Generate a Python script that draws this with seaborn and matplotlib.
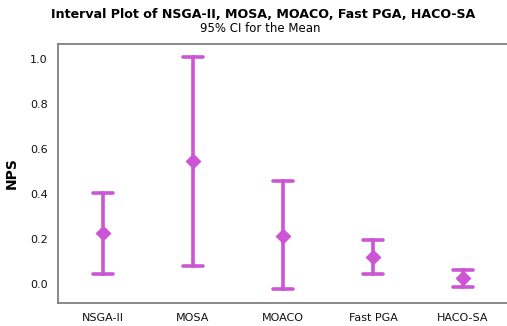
import matplotlib
matplotlib.use("Agg")
import matplotlib.pyplot as plt
import seaborn as sns
import pandas as pd

categories = ["NSGA-II", "MOSA", "MOACO", "Fast PGA", "HACO-SA"]
means = [0.226, 0.547, 0.215, 0.121, 0.025]
lower = [0.045, 0.081, -0.022, 0.044, -0.013]
upper = [0.406, 1.008, 0.456, 0.198, 0.062]
yticks = [0.0, 0.2, 0.4, 0.6, 0.8, 1.0]

rows = []
for c, lo, m, hi in zip(categories, lower, means, upper):
    for v in (lo, m, hi):
        rows.append({"Algorithm": c, "NPS": v})
df = pd.DataFrame(rows)

sns.set_style("white")
plt.rcParams["font.family"] = ["DejaVu Sans"]

color = "#CC55D6"
fig = plt.figure(figsize=(5.07, 3.26), dpi=100)
ax = fig.add_axes([58 / 507, 1 - 303 / 326, 450 / 507, 259 / 326])

sns.pointplot(data=df, x="Algorithm", y="NPS", order=categories,
              estimator="median", errorbar=("pi", 100), color=color,
              markers="D", linestyles="none", capsize=0.22,
              err_kws={"linewidth": 2.6}, markersize=6, ax=ax)

ax.set_xlim(-0.5, 4.5)
ax.set_ylim(-0.084, 1.067)
ax.set_yticks(yticks)
ax.set_yticklabels([f"{t:.1f}" for t in yticks])
ax.set_xlabel("")
ax.set_ylabel("NPS", fontsize=10, fontweight="bold", labelpad=8, color="black")

for s in ax.spines.values():
    s.set_color("#808080")
    s.set_linewidth(1.3)
ax.spines["right"].set_visible(False)
ax.tick_params(axis="both", direction="out", length=4, width=1,
               color="#808080", labelsize=8, labelcolor="#111111")

fig.text(263 / 507, 1 - 14 / 326, "Interval Plot of NSGA-II, MOSA, MOACO, Fast PGA, HACO-SA",
         ha="center", va="center", fontsize=9.1, fontweight="bold", color="black")
fig.text(260 / 507, 1 - 29 / 326, "95% CI for the Mean",
         ha="center", va="center", fontsize=8.5, color="black")

fig.savefig("out.png", dpi=100)
